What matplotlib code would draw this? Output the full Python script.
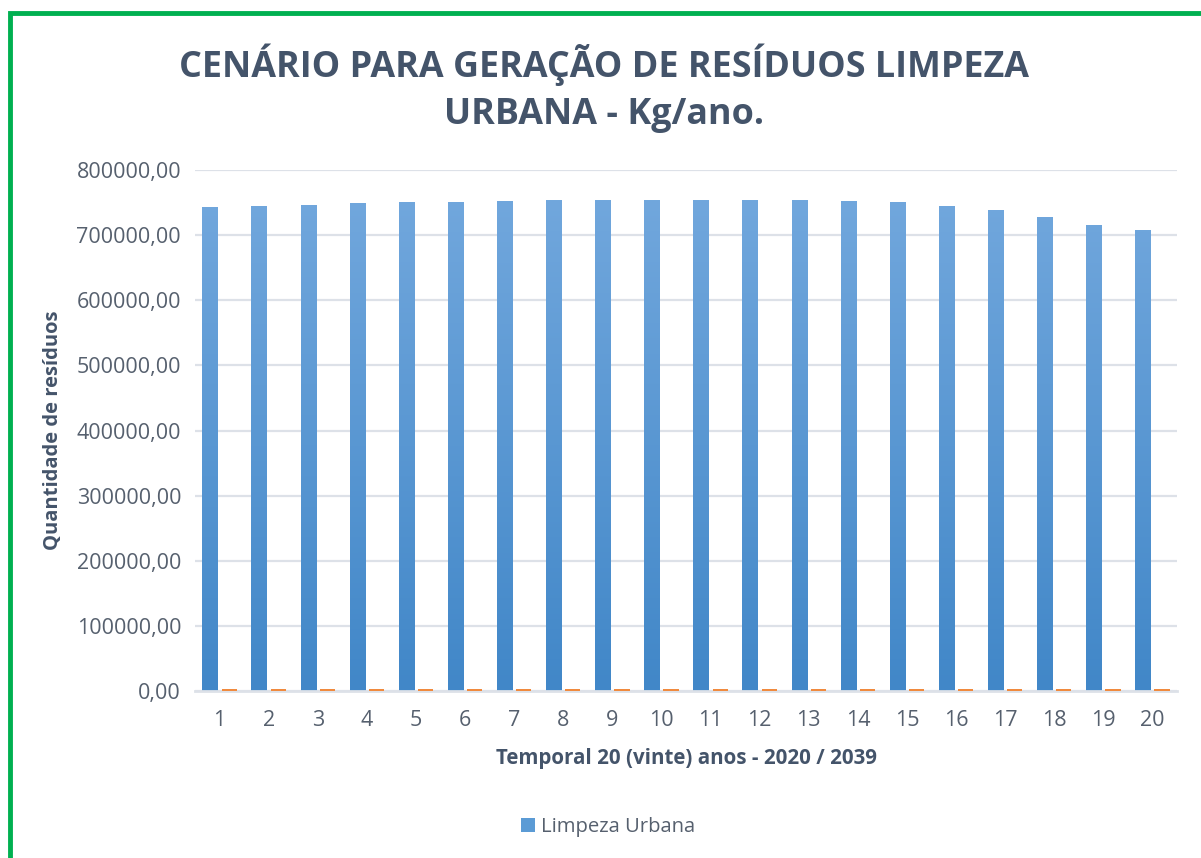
import matplotlib
matplotlib.use("Agg")
import matplotlib.pyplot as plt
import numpy as np
from matplotlib.colors import LinearSegmentedColormap
from matplotlib.patches import Rectangle

categories = list(range(1, 21))
limpeza_urbana = [742600, 744600, 746700, 748700, 750300, 750300, 752300, 754400, 754400, 754400,
                  754400, 754400, 754400, 752300, 750300, 744600, 738500, 727200, 715400, 707700]
serie_2 = [3200] * 20
yticks = [0, 100000, 200000, 300000, 400000, 500000, 600000, 700000, 800000]
ytick_labels = ["0,00", "100000,00", "200000,00", "300000,00", "400000,00",
                "500000,00", "600000,00", "700000,00", "800000,00"]

title = "CENÁRIO PARA GERAÇÃO DE RESÍDUOS LIMPEZA\nURBANA - Kg/ano."
xlabel = "Temporal 20 (vinte) anos - 2020 / 2039"
ylabel = "Quantidade de resíduos"

W, H = 1201, 858
fig = plt.figure(figsize=(W / 100, H / 100), dpi=100)
fig.patch.set_facecolor("white")

# green frame
fig.add_artist(Rectangle((9.5 / W, -0.05), 1.2, 1 - 13 / H + 0.05, transform=fig.transFigure,
                         fill=False, edgecolor="#00B050", linewidth=3.5))

ax = fig.add_axes([195 / W, 1 - 691 / H, (1177 - 195) / W, (691 - 170) / H])
x = np.array(categories, dtype=float)
bw = 0.31
off = 0.195
bars = ax.bar(x - off, limpeza_urbana, width=bw, color="#5B9BD5", label="Limpeza Urbana", zorder=2)
ax.bar(x + off, serie_2, width=bw, color="#F08A3E", zorder=4)

# gradient fill for blue bars
cmap = LinearSegmentedColormap.from_list("g", ["#4187C8", "#74A9DE"])
grad = np.linspace(0, 1, 256).reshape(-1, 1)
for b in bars:
    im = ax.imshow(grad, cmap=cmap, origin="lower", aspect="auto",
                   extent=(0.5, 20.5, 0, 800000), zorder=2.5)
    im.set_clip_path(b)
ax.set_xlim(0.5, 20.5)
ax.set_ylim(0, 800000)

txtc = "#56606E"
ax.set_yticks(yticks)
ax.set_yticklabels(ytick_labels, fontsize=15.5, color=txtc, family="Open Sans")
ax.set_xticks(categories)
ax.set_xticklabels([str(c) for c in categories], fontsize=15.5, color=txtc, family="Open Sans")
ax.tick_params(axis="both", length=0)
ax.tick_params(axis="y", pad=10)
ax.tick_params(axis="x", pad=14)
ax.grid(axis="y", color="#DDE1E8", linewidth=1.6, zorder=0)
ax.set_axisbelow(True)
for s in ["top", "right", "left"]:
    ax.spines[s].set_visible(False)
ax.spines["bottom"].set_color("#DDE1E8")
ax.spines["bottom"].set_linewidth(2)

ax.set_xlabel(xlabel, fontsize=14.8, fontweight="bold", color="#44546A", family="Open Sans", labelpad=12)
ax.set_ylabel(ylabel, fontsize=14.5, fontweight="bold", color="#44546A", family="Open Sans", labelpad=10)

fig.text(604 / W, 1 - 88 / H, title, ha="center", va="center", fontsize=25.8, fontweight="bold",
         color="#44546A", family="Open Sans", linespacing=1.4)

leg = fig.legend(handles=[bars], labels=["Limpeza Urbana"], loc="center", bbox_to_anchor=(608 / W, 1 - 827 / H),
                 frameon=False, fontsize=14.6, handlelength=0.7, handleheight=0.7, handletextpad=0.3)
for t in leg.get_texts():
    t.set_color(txtc)
    t.set_family("Open Sans")

fig.savefig("out.png", dpi=100)
